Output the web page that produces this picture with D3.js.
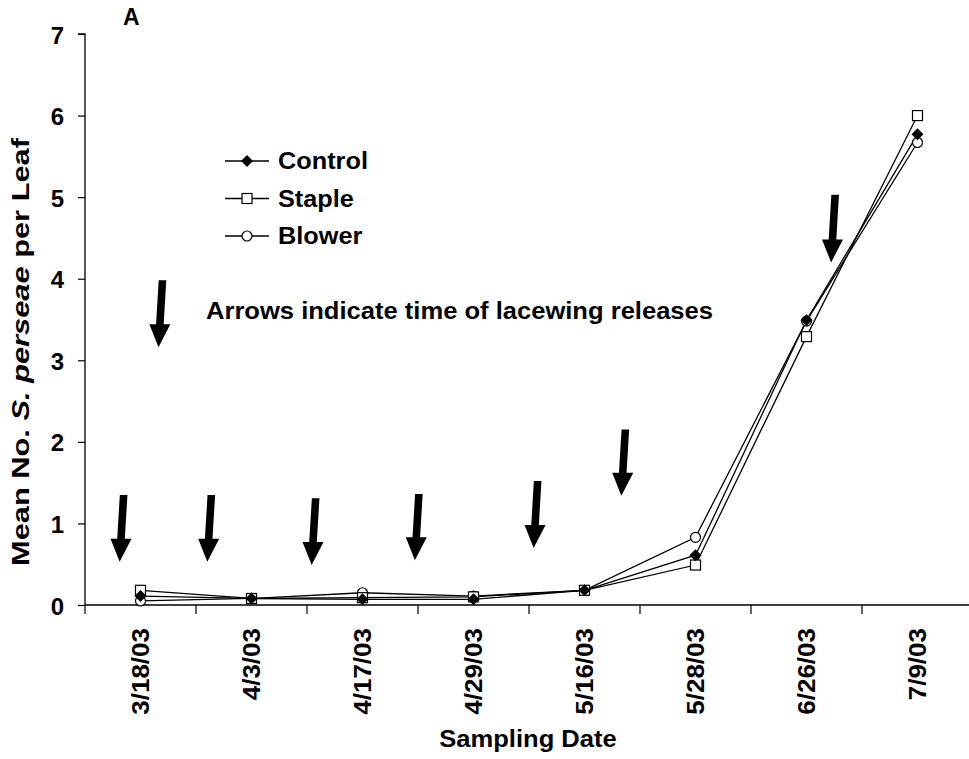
<!DOCTYPE html>
<html><head><meta charset="utf-8">
<script src="https://cdn.jsdelivr.net/npm/d3@7"></script>
<style>body{margin:0;background:#fff}svg{display:block}text{font-family:"Liberation Sans",Arial,sans-serif;font-weight:bold}</style>
</head><body><svg id="c" width="969" height="759"></svg>
<script>
const dates = ["3/18/03","4/3/03","4/17/03","4/29/03","5/16/03","5/28/03","6/26/03","7/9/03"];
const control = [0.11,0.08,0.07,0.07,0.18,0.61,3.49,5.77];
const staple  = [0.18,0.08,0.09,0.10,0.18,0.49,3.29,6.00];
const blower  = [0.05,0.08,0.15,0.11,0.18,0.83,3.48,5.67];
const yTicks = [0,1,2,3,4,5,6,7];
// release arrows: x as category position (0 = first band start), y top/tip in data units
const arrowX   = [0.33,1.12,2.06,2.99,4.06,4.85,6.74,0.68];
const arrowTop = [1.35,1.35,1.31,1.36,1.52,2.15,5.03,3.98];
const arrowTip = [0.53,0.53,0.49,0.55,0.70,1.34,4.20,3.16];

const svg = d3.select("#c");
const L=85, R=973, T=34, B=605;
const x = d3.scaleBand().domain(dates).range([L,R]);
const xc = d => x(d)+x.bandwidth()/2;
const xl = d3.scaleLinear().domain([0,dates.length]).range([L,R]);
const y = d3.scaleLinear().domain([0,7]).range([B,T]);

function stretch(sel, f){
  sel.each(function(){
    const n = this.getComputedTextLength();
    d3.select(this).attr("textLength", n*f).attr("lengthAdjust","spacingAndGlyphs");
  });
}

// y axis
const ya = svg.append("g").attr("transform",`translate(${L},0)`)
  .call(d3.axisLeft(y).tickValues(yTicks).tickSize(7).tickPadding(14).tickFormat(d3.format("d")));
ya.select(".domain").attr("stroke","#000").attr("stroke-width",1.3).attr("d",`M-7,${T}H0V${B}`);
ya.selectAll(".tick line").attr("stroke","#000").attr("stroke-width",1.2);
ya.selectAll(".tick text").attr("font-size",24).attr("fill","#000").attr("dy","0.38em")
  .attr("font-family","Liberation Sans, Arial, sans-serif").attr("font-weight","bold");

// x axis
const xa = svg.append("g").attr("transform",`translate(0,${B})`);
xa.append("line").attr("x1",L).attr("x2",R).attr("stroke","#000").attr("stroke-width",1.5);
const bounds = d3.range(dates.length+1).map(i=>xl(i));
xa.selectAll(".bt").data(bounds).join("line").attr("x1",d=>d).attr("x2",d=>d)
  .attr("y1",0).attr("y2",9).attr("stroke","#000").attr("stroke-width",1.2);
xa.selectAll(".xl").data(dates).join("text")
  .attr("transform",d=>`translate(${xc(d)+8},23) rotate(-90)`)
  .attr("text-anchor","end").attr("font-size",23).attr("fill","#000").text(d=>d)
  .call(stretch,1.13);

// titles
svg.append("text").attr("x",528).attr("y",747).attr("text-anchor","middle").attr("font-size",23).text("Sampling Date").call(stretch,1.11);
const yt = svg.append("text").attr("transform","translate(29,352) rotate(-90)").attr("text-anchor","middle").attr("font-size",24);
yt.append("tspan").text("Mean No. ");
yt.append("tspan").attr("font-style","italic").text("S. perseae");
yt.append("tspan").text(" per Leaf");
yt.attr("textLength",428).attr("lengthAdjust","spacingAndGlyphs");
svg.append("text").attr("x",123).attr("y",25).attr("font-size",23).text("A");

// arrows
const ag = svg.append("g");
arrowX.forEach((ax,i)=>{
  const xt = xl(ax)+2, xb = xl(ax)-2;
  const yt0 = y(arrowTop[i]), yb = y(arrowTip[i]);
  const hl = 23, hw = 10.5, sw = 3.8;
  const yh = yb-hl;
  const xh = xb + (xt-xb)*(hl/(yb-yt0));
  ag.append("path").attr("fill","#000").attr("d",
    `M${xt-sw},${yt0} L${xt+sw},${yt0} L${xh+sw},${yh} L${xh+hw},${yh} L${xb},${yb} L${xh-hw},${yh} L${xh-sw},${yh} Z`);
});
svg.append("text").attr("x",206).attr("y",319).attr("font-size",23).text("Arrows indicate time of lacewing releases")
  .attr("textLength",507).attr("lengthAdjust","spacingAndGlyphs");

// series
const series = [
  {name:"Blower", vals:blower, m:"circle"},
  {name:"Staple", vals:staple, m:"square"},
  {name:"Control", vals:control, m:"diamond"}
];
const line = d3.line().x((d,i)=>xc(dates[i])).y(d=>y(d));
function marker(g, type, cx, cy){
  if(type==="circle") g.append("circle").attr("cx",cx).attr("cy",cy).attr("r",5).attr("fill","#fff").attr("stroke","#000").attr("stroke-width",1.2);
  else if(type==="square") g.append("rect").attr("x",cx-5).attr("y",cy-5).attr("width",10).attr("height",10).attr("fill","#fff").attr("stroke","#000").attr("stroke-width",1.2);
  else g.append("path").attr("d",`M${cx},${cy-6}L${cx+6},${cy}L${cx},${cy+6}L${cx-6},${cy}Z`).attr("fill","#000");
}
series.forEach(s=>{
  svg.append("path").datum(s.vals).attr("d",line).attr("fill","none").attr("stroke","#000").attr("stroke-width",1.3);
});
series.forEach(s=>{
  const g = svg.append("g");
  s.vals.forEach((v,i)=>marker(g,s.m,xc(dates[i]),y(v)));
});

// legend
const legend = [{name:"Control",m:"diamond"},{name:"Staple",m:"square"},{name:"Blower",m:"circle"}];
legend.forEach((l,i)=>{
  const ly = 161 + i*37.5;
  const g = svg.append("g");
  g.append("line").attr("x1",225).attr("x2",269).attr("y1",ly).attr("y2",ly).attr("stroke","#000").attr("stroke-width",1.3);
  marker(g,l.m,247,ly);
  g.append("text").attr("x",278).attr("y",ly+8).attr("font-size",23).text(l.name).call(stretch,1.1);
});
</script></body></html>
